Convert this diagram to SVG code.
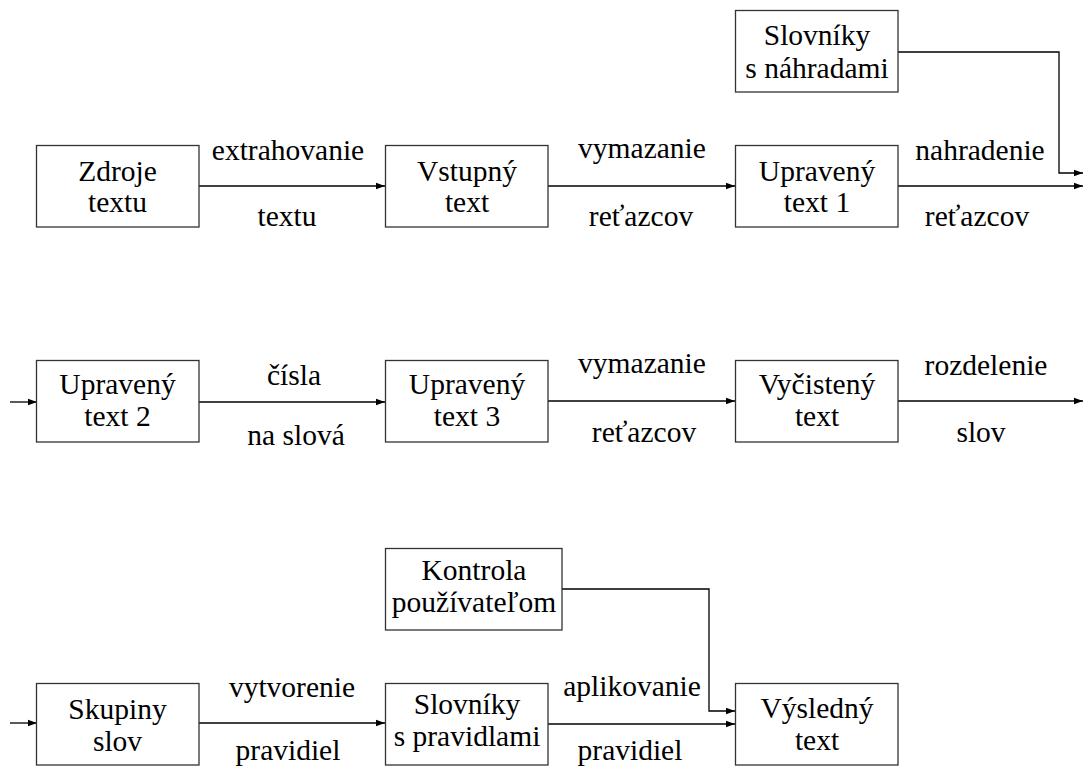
<svg xmlns="http://www.w3.org/2000/svg" width="1084" height="767" viewBox="0 0 1084 767">
<defs>
<marker id="ah" markerWidth="10" markerHeight="8" refX="9" refY="4" orient="auto" markerUnits="userSpaceOnUse">
<path d="M0,0.8 L9,4 L0,7.2 Z" fill="#000"/>
</marker>
<style>
.box{fill:#fff;stroke:#333;stroke-width:1.3}
.c{fill:none;stroke:#000;stroke-width:1.3;marker-end:url(#ah)}
</style>
</defs>
<rect width="1084" height="767" fill="#fff"/>

<g id="connectors">
<path class="c" d="M199,186 H385"/>
<path class="c" d="M548,186 H735"/>
<path class="c" d="M898,186 H1083"/>
<path class="c" d="M898,52 H1059 V173 H1083"/>
<path class="c" d="M10,402 H37"/>
<path class="c" d="M199,402 H385"/>
<path class="c" d="M548,401 H735"/>
<path class="c" d="M898,401 H1083"/>
<path class="c" d="M10,723 H37"/>
<path class="c" d="M199,723 H385"/>
<path class="c" d="M548,724 H735"/>
<path class="c" d="M562,589 H709 V711 H735"/>
</g>

<g font-family="'Liberation Serif', 'Times New Roman', serif" font-size="29.5" fill="#000" text-anchor="middle">
<g id="labels">
<text x="288" y="160">extrahovanie</text>
<text x="287" y="226">textu</text>
<text x="642" y="158">vymazanie</text>
<text x="641" y="226">reťazcov</text>
<text x="980" y="160">nahradenie</text>
<text x="977" y="226">reťazcov</text>
<text x="294" y="385">čísla</text>
<text x="296" y="445">na slová</text>
<text x="642" y="373">vymazanie</text>
<text x="644" y="442">reťazcov</text>
<text x="986" y="375">rozdelenie</text>
<text x="981" y="442">slov</text>
<text x="292" y="697">vytvorenie</text>
<text x="288" y="760">pravidiel</text>
<text x="632" y="696">aplikovanie</text>
<text x="630" y="760">pravidiel</text>
</g>

<g id="n-zdroje">
<rect class="box" x="36.5" y="145.5" width="162.5" height="81.5"/>
<text x="117.5" y="181">Zdroje</text>
<text x="117.5" y="212">textu</text>
</g>
<g id="n-vstupny">
<rect class="box" x="385.5" y="145.5" width="162.5" height="81.5"/>
<text x="467" y="181">Vstupný</text>
<text x="467" y="212">text</text>
</g>
<g id="n-upraveny1">
<rect class="box" x="735.5" y="145.5" width="162.5" height="81.5"/>
<text x="817" y="181">Upravený</text>
<text x="817" y="212">text 1</text>
</g>
<g id="n-nahrady">
<rect class="box" x="735.5" y="10.5" width="162.5" height="81.5"/>
<text x="817" y="45">Slovníky</text>
<text x="817" y="78">s náhradami</text>
</g>
<g id="n-upraveny2">
<rect class="box" x="36.5" y="360.5" width="162.5" height="81.5"/>
<text x="117.5" y="394">Upravený</text>
<text x="117.5" y="426">text 2</text>
</g>
<g id="n-upraveny3">
<rect class="box" x="385.5" y="360.5" width="162.5" height="81.5"/>
<text x="467" y="394">Upravený</text>
<text x="467" y="426">text 3</text>
</g>
<g id="n-vycisteny">
<rect class="box" x="735.5" y="360.5" width="162.5" height="81.5"/>
<text x="817" y="394">Vyčistený</text>
<text x="817" y="426">text</text>
</g>
<g id="n-skupiny">
<rect class="box" x="36.5" y="683.5" width="162.5" height="81.5"/>
<text x="117.5" y="719">Skupiny</text>
<text x="117.5" y="751">slov</text>
</g>
<g id="n-pravidla">
<rect class="box" x="385.5" y="683.5" width="162.5" height="81.5"/>
<text x="467" y="714">Slovníky</text>
<text x="467" y="746">s pravidlami</text>
</g>
<g id="n-kontrola">
<rect class="box" x="385.5" y="548.5" width="176.5" height="81.5"/>
<text x="474" y="580">Kontrola</text>
<text x="474" y="612">používateľom</text>
</g>
<g id="n-vysledny">
<rect class="box" x="735.5" y="683.5" width="162.5" height="81.5"/>
<text x="817" y="718">Výsledný</text>
<text x="817" y="750">text</text>
</g>
</g>
</svg>
